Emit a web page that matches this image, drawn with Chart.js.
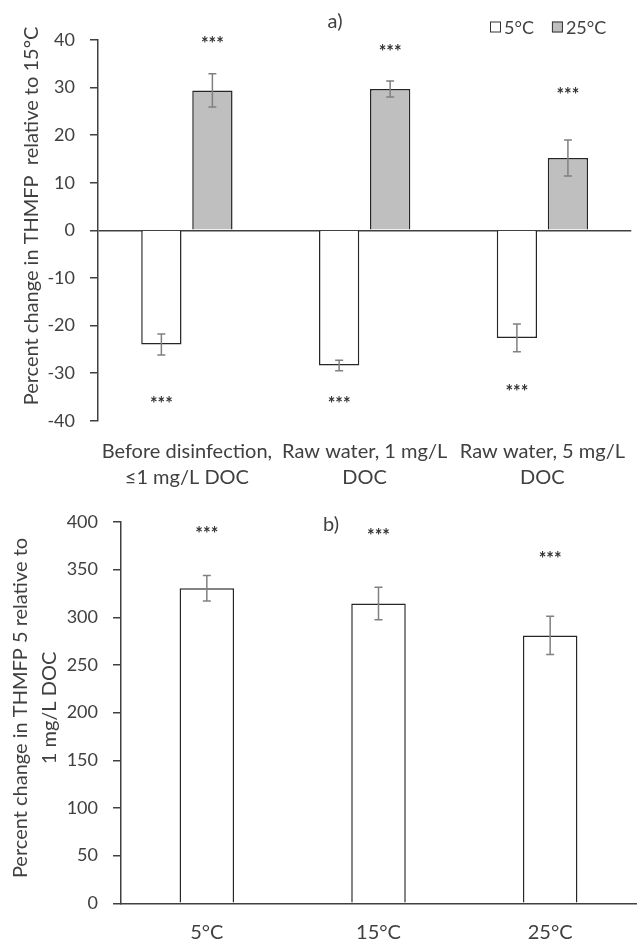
<!DOCTYPE html>
<html>
<head>
<meta charset="utf-8">
<script src="https://cdn.jsdelivr.net/npm/chart.js@4.4.1/dist/chart.umd.min.js"></script>
<style>
    html, body { margin: 0; padding: 0; background: #fff; }
    #wrapA { position: absolute; left: 0; top: 0; width: 643px; height: 496px; }
    #wrapB { position: absolute; left: 0; top: 496px; width: 643px; height: 444px; }
</style>
</head>
<body>
<div id="wrapA"><canvas id="chartA"></canvas></div>
<div id="wrapB"><canvas id="chartB"></canvas></div>
<script>
// panel a) - percent change relative to 15°C
const waterLabels = [['Before disinfection,', '\u22641 mg/L DOC'], ['Raw water, 1 mg/L', 'DOC'], ['Raw water, 5 mg/L', 'DOC']];
const change5C = [-24.0, -28.4, -22.6];
const err5C = [2.2, 1.1, 2.9];
const change25C = [29.4, 29.7, 15.2];
const err25C = [3.5, 1.7, 3.8];
const sig5C = [-35.4, -35.4, -32.9];    // height of the *** marks
const sig25C = [40.2, 38.5, 29.5];

// panel b) - percent change of 5 mg/L relative to 1 mg/L DOC
const tempLabels = ['5\u00B0C', '15\u00B0C', '25\u00B0C'];
const change5mg = [330.5, 314.5, 281.0];
const err5mg = [13.5, 17.0, 20.0];
const sig5mg = [392.5, 391.0, 366.5];

const FONT = 'Lato';
const INK = '#404040';
const AXIS = '#404040';

// draws error bars, *** marks, panel title, y title and legend
const overlay = {
    id: 'overlay',
    afterDatasetsDraw(chart) {
        const ctx = chart.ctx;
        const y = chart.scales.y;
        ctx.save();
        chart.data.datasets.forEach(function(ds, i) {
            const meta = chart.getDatasetMeta(i);
            meta.data.forEach(function(bar, j) {
                const v = ds.data[j];
                const e = ds.errors[j];
                const top = y.getPixelForValue(v + e);
                const bot = y.getPixelForValue(v - e);
                ctx.strokeStyle = '#808080';
                ctx.lineWidth = 1.5;
                ctx.beginPath();
                ctx.moveTo(bar.x, top); ctx.lineTo(bar.x, bot);
                ctx.moveTo(bar.x - 4, top); ctx.lineTo(bar.x + 4, top);
                ctx.moveTo(bar.x - 4, bot); ctx.lineTo(bar.x + 4, bot);
                ctx.stroke();

                ctx.fillStyle = '#333';
                ctx.font = 'bold 18px ' + FONT;
                ctx.textAlign = 'center';
                ctx.textBaseline = 'alphabetic';
                ctx.fillText('***', bar.x, y.getPixelForValue(ds.stars[j]) + 11);
            });
        });
        ctx.restore();
    },
    afterDraw(chart, args, opts) {
        const ctx = chart.ctx;
        ctx.save();
        ctx.fillStyle = INK;
        ctx.textAlign = 'center';
        ctx.textBaseline = 'middle';
        ctx.font = '20px ' + FONT;
        ctx.fillText(opts.panel, opts.panelX, opts.panelY);

        // y axis title
        ctx.font = '20px ' + FONT;
        opts.yTitle.forEach(function(line, k) {
            ctx.save();
            ctx.translate(opts.yTitleX[k], opts.yTitleY);
            ctx.rotate(-Math.PI / 2);
            ctx.fillText(line, 0, 0);
            ctx.restore();
        });

        if (opts.legendX) {
            let x = opts.legendX;
            const ly = opts.legendY;
            ctx.font = '18px ' + FONT;
            ctx.textAlign = 'left';
            chart.data.datasets.forEach(function(ds) {
                ctx.fillStyle = ds.backgroundColor;
                ctx.fillRect(x, ly - 5.5, 11, 11);
                ctx.strokeStyle = '#333';
                ctx.lineWidth = 1;
                ctx.strokeRect(x + 0.5, ly - 5, 10, 10);
                ctx.fillStyle = INK;
                ctx.fillText(ds.label, x + 14, ly + 1);
                x += 14 + ctx.measureText(ds.label).width + 18;
            });
        }
        ctx.restore();
    }
};

function yScale(min, max, step, width, onArea) {
    return {
        min: min,
        max: max,
        ticks: { stepSize: step, color: INK, font: { family: FONT, size: 18 }, padding: 15 },
        grid: {
            drawOnChartArea: onArea,
            color: function(c) { return c.tick && c.tick.value === 0 ? AXIS : 'rgba(0,0,0,0)'; },
            lineWidth: 1.5,
            tickLength: 8,
            tickColor: AXIS,
            tickWidth: 1.5
        },
        border: { display: true, color: AXIS, width: 1.5 },
        afterFit: function(scale) { scale.width = width; }
    };
}

function xScale(height, pad, showLine) {
    return {
        ticks: { color: INK, font: { family: FONT, size: 20, lineHeight: 1.3 }, padding: pad, maxRotation: 0, autoSkip: false },
        grid: { display: false, drawTicks: false },
        border: { display: showLine, color: AXIS, width: 1.5 },
        afterFit: function(scale) { scale.height = height; }
    };
}

new Chart(document.getElementById('chartA'), {
    type: 'bar',
    data: {
        labels: waterLabels,
        datasets: [
            {
                label: '5\u00B0C',
                data: change5C,
                errors: err5C,
                stars: sig5C,
                backgroundColor: '#ffffff',
                borderColor: '#262626',
                borderWidth: 1.5,
                categoryPercentage: 0.574,
                barPercentage: 0.79
            },
            {
                label: '25\u00B0C',
                data: change25C,
                errors: err25C,
                stars: sig25C,
                backgroundColor: '#bfbfbf',
                borderColor: '#262626',
                borderWidth: 1.5,
                categoryPercentage: 0.574,
                barPercentage: 0.79
            }
        ]
    },
    options: {
        responsive: true,
        maintainAspectRatio: false,
        animation: false,
        layout: { padding: { top: 40, right: 0, left: 0, bottom: 0 } },
        scales: {
            x: xScale(75.3, 18, false),
            y: yScale(-40, 40, 10, 98, true)
        },
        plugins: {
            legend: { display: false },
            tooltip: { enabled: false },
            overlay: {
                panel: 'a)', panelX: 335, panelY: 22,
                yTitle: ['Percent change in THMFP  relative to 15\u00B0C'], yTitleX: [32], yTitleY: 216,
                legendX: 490, legendY: 27
            }
        }
    },
    plugins: [overlay]
});

new Chart(document.getElementById('chartB'), {
    type: 'bar',
    data: {
        labels: tempLabels,
        datasets: [
            {
                label: '5 mg/L DOC',
                data: change5mg,
                errors: err5mg,
                stars: sig5mg,
                backgroundColor: '#ffffff',
                borderColor: '#262626',
                borderWidth: 1.5,
                categoryPercentage: 0.5,
                barPercentage: 0.635
            }
        ]
    },
    options: {
        responsive: true,
        maintainAspectRatio: false,
        animation: false,
        layout: { padding: { top: 26, right: 7, left: 0, bottom: 0 } },
        scales: {
            x: xScale(36.7, 16.4, true),
            y: yScale(0, 400, 50, 121, false)
        },
        plugins: {
            legend: { display: false },
            tooltip: { enabled: false },
            overlay: {
                panel: 'b)', panelX: 331, panelY: 29,
                yTitle: ['Percent change in THMFP 5 relative to', '1 mg/L DOC'], yTitleX: [21, 50], yTitleY: 212
            }
        }
    },
    plugins: [overlay]
});
</script>
</body>
</html>
